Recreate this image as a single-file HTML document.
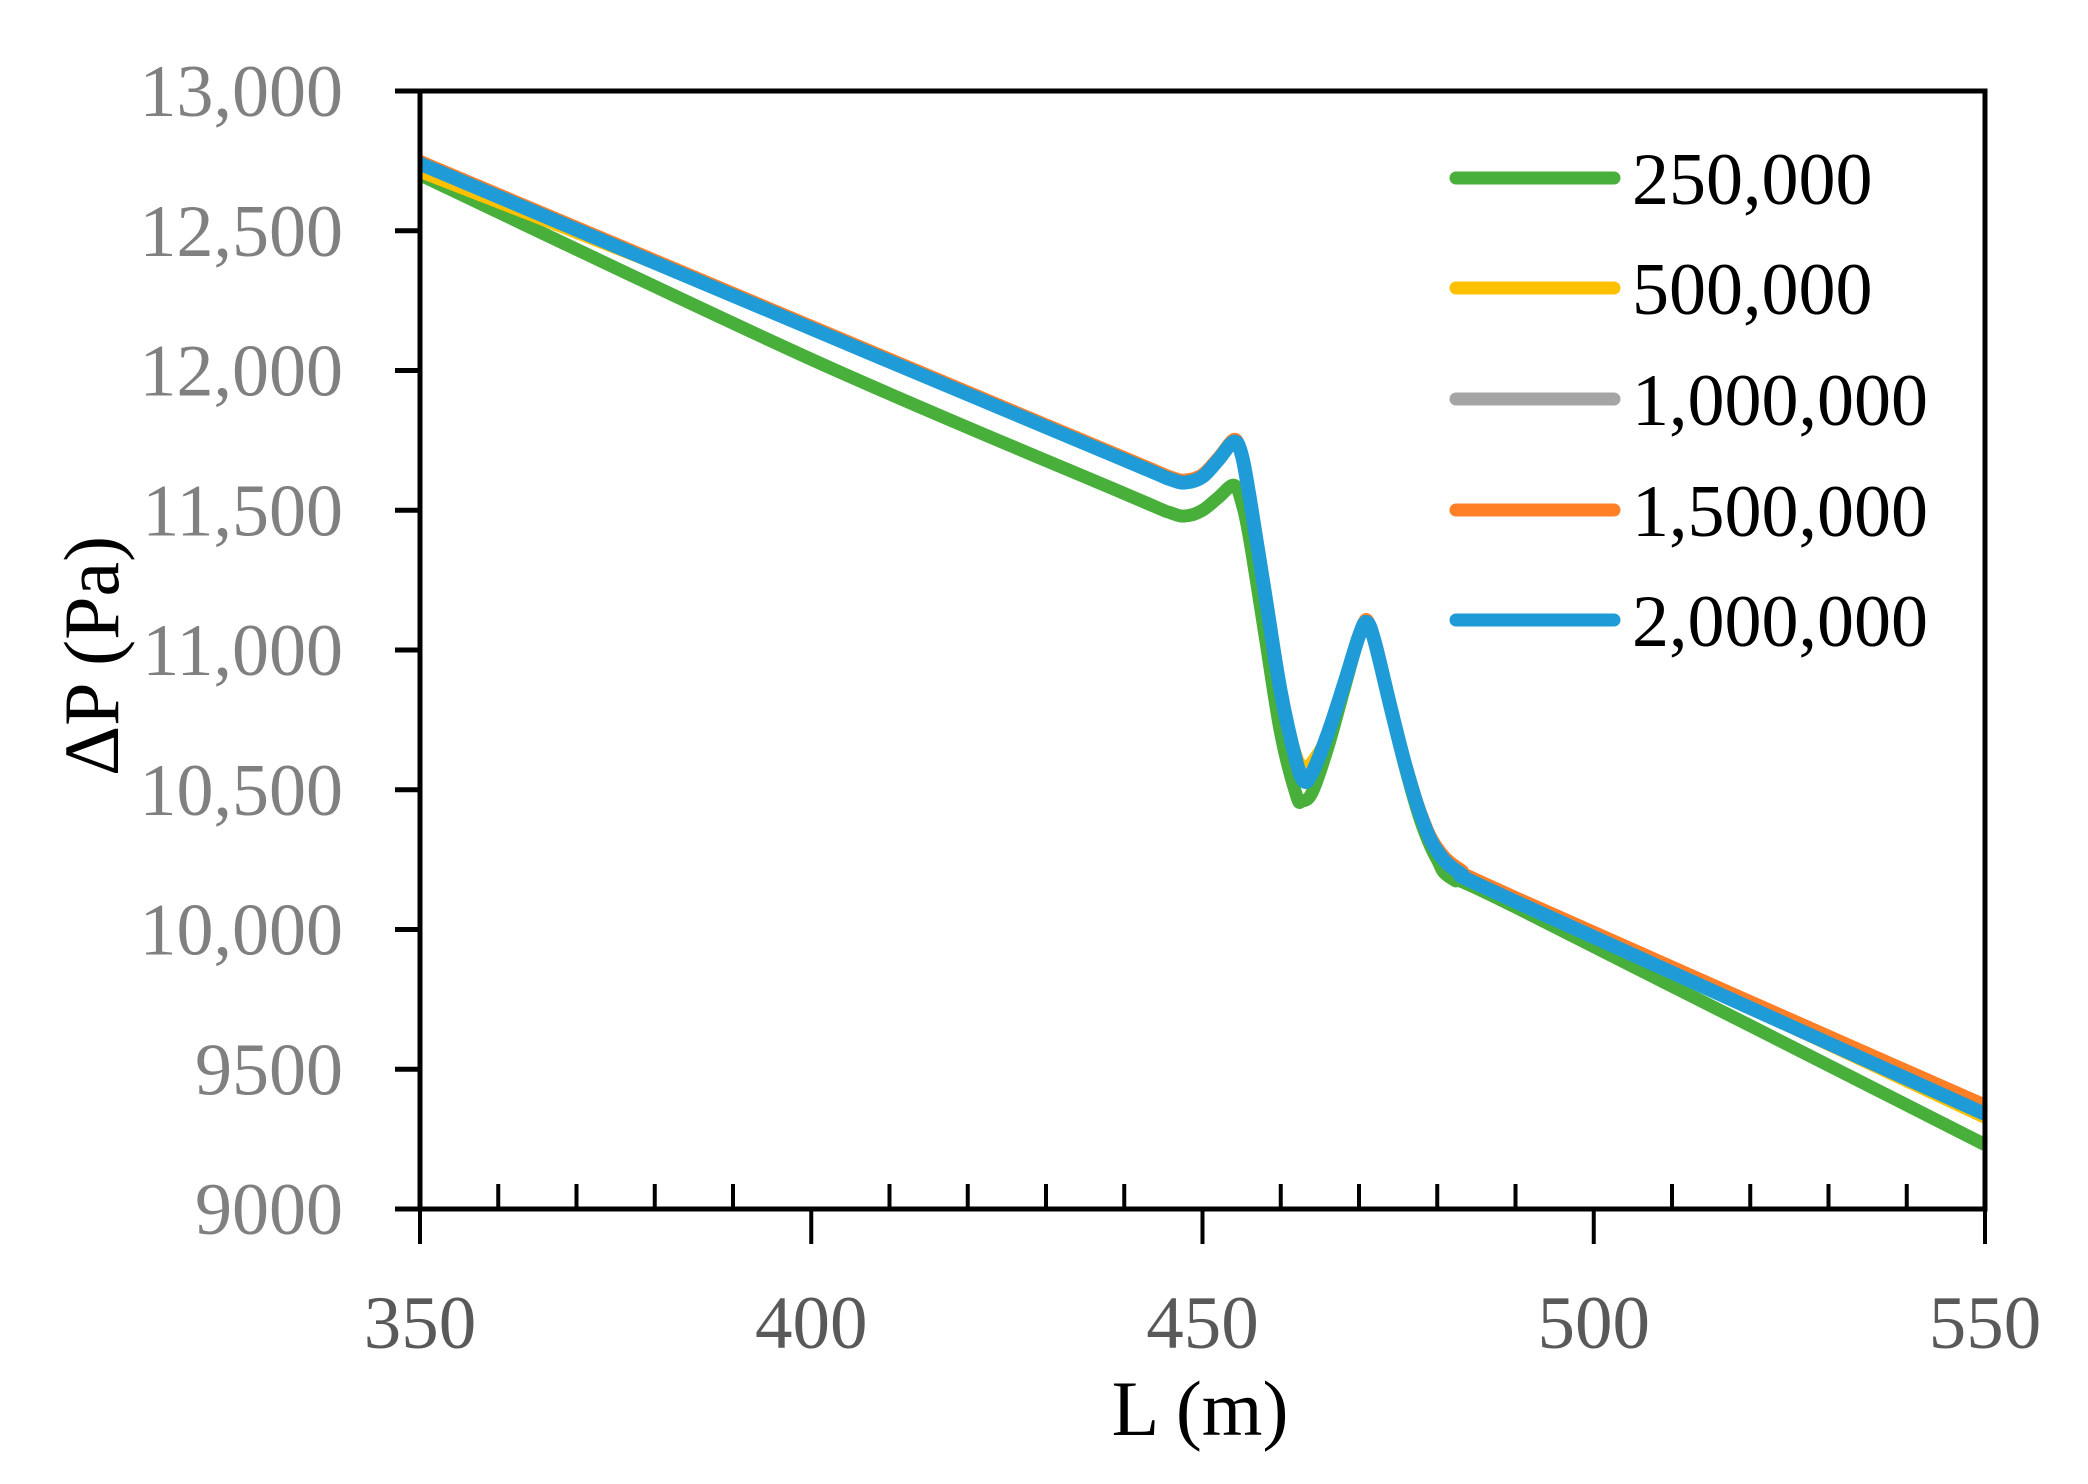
<!DOCTYPE html>
<html><head><meta charset="utf-8"><style>
html,body{margin:0;padding:0;background:#fff;}
svg{display:block}
text{font-family:"Liberation Serif",serif;}
</style></head><body>
<svg id="s" width="2088" height="1484" viewBox="0 0 2088 1484" xmlns="http://www.w3.org/2000/svg">
<rect width="2088" height="1484" fill="#fff"/>
<g id="curves"></g>
<g id="axes" stroke="#000" fill="none"></g>
<g font-size="74" fill="#808080" text-anchor="end" id="ylab"></g>
<g font-size="75" fill="#595959" text-anchor="middle" id="xlab"></g>
<text x="1200" y="1435" font-size="78" text-anchor="middle" fill="#000">L (m)</text>
<text transform="translate(118,656) rotate(-90)" font-size="78" text-anchor="middle" fill="#000">ΔP (Pa)</text>
<g id="legend"></g>
</svg>
<script>
var NS="http://www.w3.org/2000/svg";
function X(v){return 420+(v-350)*7.825;}
function Y(v){return 91+(13000-v)*0.2795;}
function el(p,t,a,txt){var e=document.createElementNS(NS,t);for(var k in a)e.setAttribute(k,a[k]);if(txt!==undefined)e.textContent=txt;document.getElementById(p).appendChild(e);return e;}
var blue=[[350,12740],[400,12150],[440,11680],[446,11610],[448,11600],[450,11620],[452,11680],[454,11745],[455,11700],[456,11550],[458,11200],[460,10850],[462,10600],[463,10530],[464,10560],[466,10700],[468,10870],[470,11050],[471,11100],[472,11030],[474,10800],[476,10580],[478,10400],[480,10280],[483,10200],[490,10100],[550,9340]];
var green=[[350,12700],[400,12040],[440,11560],[446,11490],[448,11480],[450,11500],[452,11545],[454,11590],[455,11530],[456,11400],[458,11050],[460,10700],[462,10480],[462.7,10460],[464,10490],[466,10650],[468,10850],[470,11050],[471,11100],[472,11030],[474,10800],[476,10570],[478,10380],[480,10250],[482,10180],[490,10080],[550,9230]];
function mod(base,f){return base.map(function(p){return [p[0],f(p[0],p[1])];});}
var orange=mod(blue,function(x,y){if(x==550)return 9375;if(x>=476)return y+18;if(x==463)return 10545;return y+12;});
var yellow=mod(blue,function(x,y){if(x==350)return 12705;if(x==550)return 9320;if(x==463)return 10590;if(x==462)return 10640;if(x==464)return 10610;return y+5;});
var gray=mod(blue,function(x,y){if(x==463)return 10560;if(x==462)return 10620;return y+8;});
function path(pts){var P=pts.map(function(p){return [X(p[0]),Y(p[1])];});var d="M"+P[0][0]+","+P[0][1];
for(var i=0;i<P.length-1;i++){var p0=P[i-1]||P[i],p1=P[i],p2=P[i+1],p3=P[i+2]||p2;
var c1=[p1[0]+(p2[0]-p0[0])/6,p1[1]+(p2[1]-p0[1])/6],c2=[p2[0]-(p3[0]-p1[0])/6,p2[1]-(p3[1]-p1[1])/6];
d+=" C"+c1[0].toFixed(1)+","+c1[1].toFixed(1)+" "+c2[0].toFixed(1)+","+c2[1].toFixed(1)+" "+p2[0].toFixed(1)+","+p2[1].toFixed(1);}return d;}
var series=[[green,"#47AF3A",13],[yellow,"#FFC000",9],[gray,"#A5A5A5",10],[orange,"#FF7F27",11],[blue,"#1F9CD8",14]];
series.forEach(function(s){el("curves","path",{d:path(s[0]),stroke:s[1],"stroke-width":s[2],fill:"none","stroke-linejoin":"round","stroke-linecap":"butt"});});
el("axes","rect",{x:420,y:91,width:1565,height:1118,"stroke-width":5});
for(var v=9000;v<=13000;v+=500){var y=Y(v);el("axes","line",{x1:395,y1:y,x2:420,y2:y,"stroke-width":5});
el("ylab","text",{x:343,y:y+25},v>=10000?v.toLocaleString("en-US"):String(v));}
for(var x=350;x<=550;x+=10){var xx=X(x);if(x%50==0){el("axes","line",{x1:xx,y1:1209,x2:xx,y2:1244,"stroke-width":4});
el("xlab","text",{x:xx,y:1348},String(x));}else{el("axes","line",{x1:xx,y1:1209,x2:xx,y2:1184,"stroke-width":4});}}
var labs=["250,000","500,000","1,000,000","1,500,000","2,000,000"],cols=["#47AF3A","#FFC000","#A5A5A5","#FF7F27","#1F9CD8"],ly=[178,288,399,510,620];
for(var i=0;i<5;i++){el("legend","line",{x1:1456,y1:ly[i],x2:1614,y2:ly[i],stroke:cols[i],"stroke-width":13,"stroke-linecap":"round"});
el("legend","text",{x:1632,y:ly[i]+26,"font-size":74,fill:"#000"},labs[i]);}
</script>
</body></html>
